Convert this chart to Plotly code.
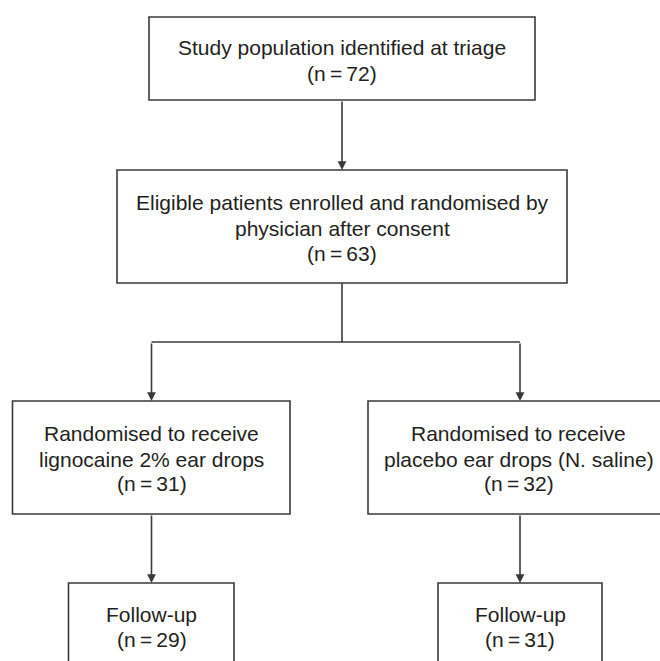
import plotly.graph_objects as go

# ---- data ----
node_titles = [
    ["Study population identified at triage"],
    ["Eligible patients enrolled and randomised by", "physician after consent"],
    ["Randomised to receive", "lignocaine 2% ear drops"],
    ["Randomised to receive", "placebo ear drops (N. saline)"],
    ["Follow-up"],
    ["Follow-up"],
]
node_counts = [72, 63, 31, 32, 29, 31]

# ---- layout geometry (diagram coordinates) ----
boxes = [  # x0, x1, y0, y1
    (149, 535, 17, 100),
    (117, 567, 170, 283),
    (12.5, 290, 401, 514),
    (368, 680, 401, 514),
    (68.5, 234, 583, 700),
    (438, 602, 583, 700),
]
text_x = [342, 342, 151.5, 518.5, 151.5, 520]
text_y = [
    [47, 73],
    [202, 228, 253],
    [433, 459, 483],
    [433, 459, 483],
    [614, 639],
    [614, 639],
]
split_y = 342
branch_x = [151.5, 520]
LINE = "#3a3a3a"
FONT = dict(family="Liberation Sans, Arial, sans-serif", size=21, color="#231f20")

fig = go.Figure()
shapes = []
annotations = []

for i, (x0, x1, y0, y1) in enumerate(boxes):
    shapes.append(dict(type="rect", xref="x", yref="y", x0=x0, x1=x1, y0=y0, y1=y1,
                       line=dict(color=LINE, width=1.6), fillcolor="rgba(0,0,0,0)"))
    lines = node_titles[i] + ["(n\u2009=\u2009%d)" % node_counts[i]]
    for ln, ty in zip(lines, text_y[i]):
        annotations.append(dict(x=text_x[i], y=ty, xref="x", yref="y", text=ln,
                                showarrow=False, font=FONT, xanchor="center",
                                yanchor="middle", borderpad=0))


def arrow(x, y_start, y_end):
    annotations.append(dict(x=x, y=y_end, ax=x, ay=y_start, xref="x", yref="y",
                            axref="x", ayref="y", showarrow=True, arrowhead=2,
                            arrowsize=1.1, arrowwidth=1.6, arrowcolor=LINE,
                            standoff=0, startstandoff=0, text=""))


# top arrow
arrow(342, boxes[0][3], boxes[1][2])
# split connector
shapes.append(dict(type="line", xref="x", yref="y", x0=342, x1=342, y0=boxes[1][3], y1=split_y,
                   line=dict(color=LINE, width=1.6)))
shapes.append(dict(type="line", xref="x", yref="y", x0=branch_x[0], x1=branch_x[1],
                   y0=split_y, y1=split_y, line=dict(color=LINE, width=1.6)))
arrow(branch_x[0], split_y, boxes[2][2])
arrow(branch_x[1], split_y, boxes[3][2])
# lower arrows
arrow(branch_x[0], boxes[2][3], boxes[4][2])
arrow(branch_x[1], boxes[3][3], boxes[5][2])

fig.update_layout(
    width=660, height=661,
    margin=dict(l=0, r=0, t=0, b=0),
    paper_bgcolor="white", plot_bgcolor="white",
    shapes=shapes, annotations=annotations,
    xaxis=dict(range=[0, 660], visible=False, fixedrange=True),
    yaxis=dict(range=[661, 0], visible=False, fixedrange=True),
    showlegend=False,
)
fig.write_html("out.html", config={"displayModeBar": False},
               post_script="document.body.style.margin='0';")
